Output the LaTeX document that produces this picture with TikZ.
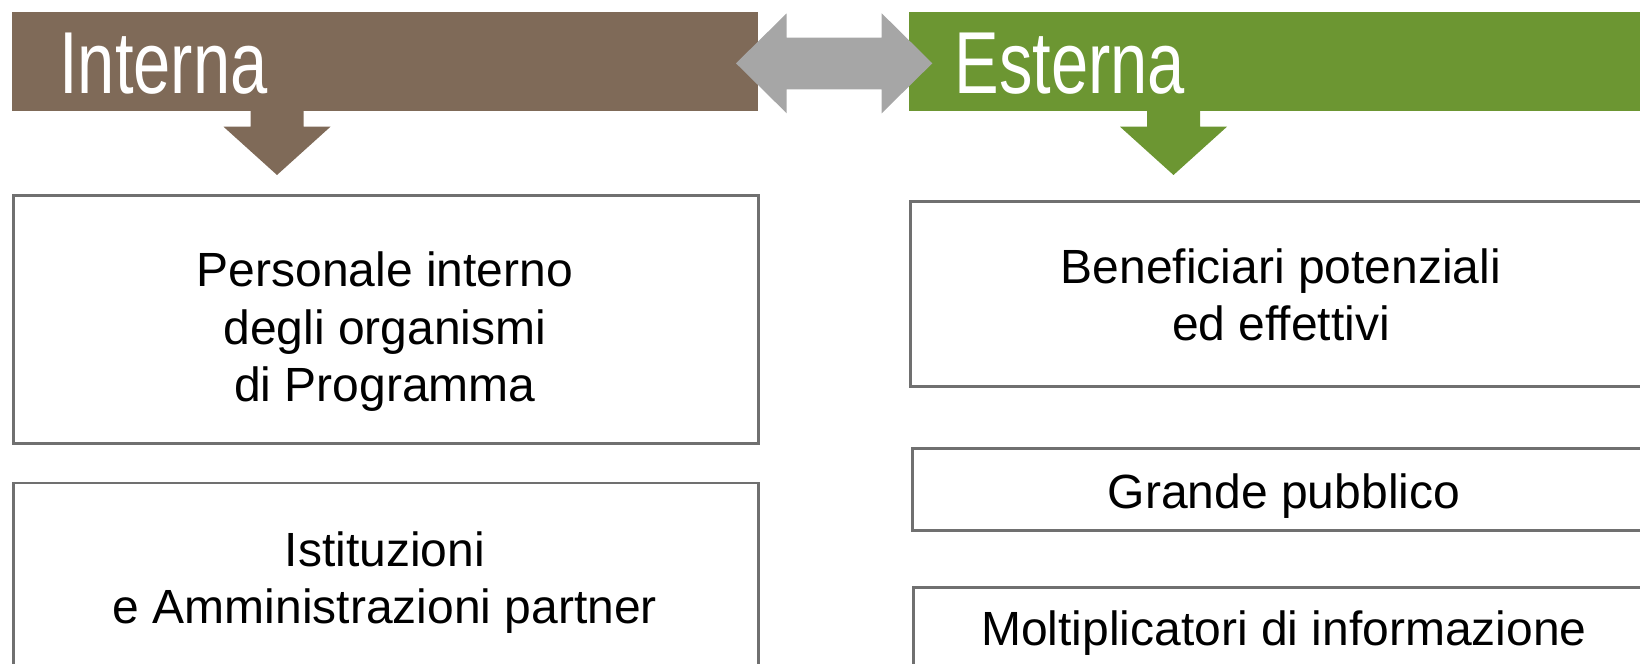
\documentclass[tikz,border=0pt]{standalone}
\usepackage{fontspec}
\setmainfont{Liberation Sans}
\newfontfamily\headfont[FakeStretch=0.76]{Liberation Sans}
\definecolor{brownbar}{RGB}{127,106,88}
\definecolor{greenbar}{RGB}{108,150,50}
\definecolor{arrowgray}{RGB}{166,166,166}
\definecolor{boxline}{RGB}{112,112,112}
\tikzset{
  boxnode/.style={draw=boxline, line width=1.25pt, fill=white},
  bodytext/.style={font=\fontsize{24}{28}\selectfont, anchor=base, inner sep=0pt},
  headtext/.style={font=\headfont\fontsize{44}{48}\selectfont, text=white, anchor=base west, inner sep=0pt},
}
\begin{document}
\begin{tikzpicture}[x=0.5pt,y=-0.5pt]
\useasboundingbox (0,0) rectangle (1640,664);
% header bars
\fill[brownbar] (12,12) rectangle (758,110.7);
\fill[greenbar] (909,12) rectangle (1660,110.7);
\node[headtext] (interna) at (59,93) {Interna};
\node[headtext] (esterna) at (954,93) {Esterna};
% down arrows
\fill[brownbar] (250.5,110) -- (303.5,110) -- (303.5,126.7) -- (330.5,126.7) -- (277,175) -- (223.5,126.7) -- (250.5,126.7) -- cycle;
\fill[greenbar] (1147,110) -- (1200,110) -- (1200,126.7) -- (1227,126.7) -- (1173.5,175) -- (1120,126.7) -- (1147,126.7) -- cycle;
% double arrow
\fill[arrowgray] (736,63.3) -- (786.7,13.3) -- (786.7,37.7) -- (881.7,37.7) -- (881.7,13.3) -- (932.3,63.3) -- (881.7,113.3) -- (881.7,89.3) -- (786.7,89.3) -- (786.7,113.3) -- cycle;
% boxes
\node[boxnode, minimum width=745pt/2, minimum height=248pt/2, anchor=north west] (b1) at (12.3,194.3) {};
\node[boxnode, minimum width=745pt/2, minimum height=260pt/2, anchor=north west] (b2) at (12.3,481.7) {};
\node[boxnode, minimum width=760pt/2, minimum height=185pt/2, anchor=north west] (b3) at (909,200) {};
\node[boxnode, minimum width=760pt/2, minimum height=82pt/2, anchor=north west] (b4) at (911.3,447.3) {};
\node[boxnode, minimum width=760pt/2, minimum height=150pt/2, anchor=north west] (b5) at (912.3,586) {};
% texts
\node[bodytext] (t11) at (385,286) {Personale interno};
\node[bodytext] (t12) at (385,344) {degli organismi};
\node[bodytext] (t13) at (385,401) {di Programma};
\node[bodytext] (t21) at (385,566) {Istituzioni};
\node[bodytext] (t22) at (385,623) {e Amministrazioni partner};
\node[bodytext] (t31) at (1281,283.5) {Beneficiari potenziali};
\node[bodytext] (t32) at (1281,340) {ed effettivi};
\node[bodytext] (t41) at (1284,508) {Grande pubblico};
\node[bodytext] (t51) at (1284,645) {Moltiplicatori di informazione};
\end{tikzpicture}
\end{document}
